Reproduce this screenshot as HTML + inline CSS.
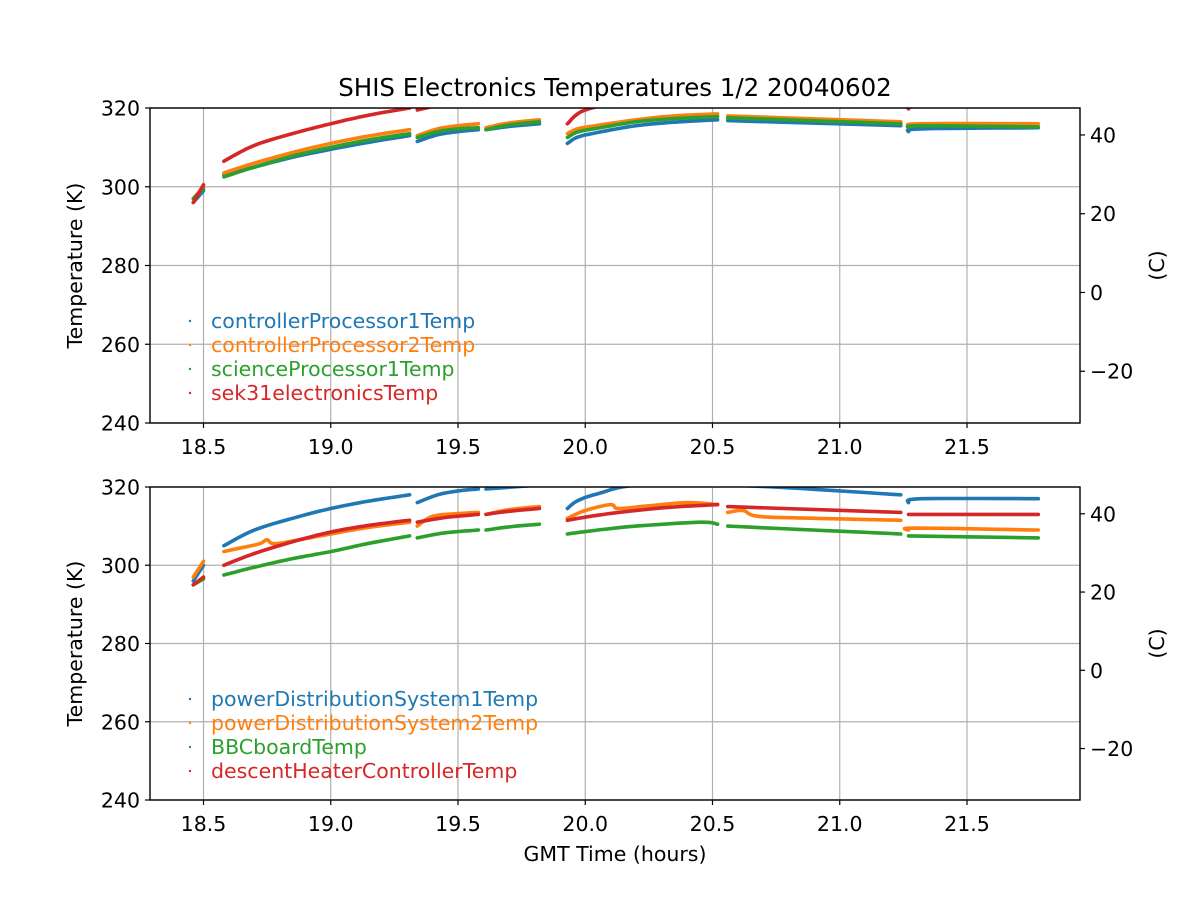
<!DOCTYPE html>
<html><head><meta charset="utf-8"><style>body{margin:0;background:#fff}svg{display:block}text{font-family:"DejaVu Sans","Liberation Sans",sans-serif;font-size:20.5px;fill:#000}</style></head>
<body>
<svg id="s" width="1200" height="900" xmlns="http://www.w3.org/2000/svg">
<text x="615" y="96" text-anchor="middle" style="font-size:24.5px">SHIS Electronics Temperatures 1/2 20040602</text>
<g id="g"></g>
<text x="615" y="861" text-anchor="middle">GMT Time (hours)</text>
</svg>
<script>
(function(){
const NS="http://www.w3.org/2000/svg",g=document.getElementById('g');
function el(t,a,txt){const e=document.createElementNS(NS,t);for(const k in a)e.setAttribute(k,a[k]);if(txt!==undefined)e.textContent=txt;g.appendChild(e);return e;}
const X=t=>203.5+(t-18.5)*254.5;
const C=['#1f77b4','#ff7f0e','#2ca02c','#d62728'];
function smooth(seg){ // catmull-rom interpolate
 if(seg.length<3)return seg;const out=[];
 for(let i=0;i<seg.length-1;i++){const p0=seg[Math.max(0,i-1)],p1=seg[i],p2=seg[i+1],p3=seg[Math.min(seg.length-1,i+2)];
  for(let s=0;s<8;s++){const t=s/8,t2=t*t,t3=t2*t;const f=(a,b,c,d)=>0.5*(2*b+(-a+c)*t+(2*a-5*b+4*c-d)*t2+(-a+3*b-3*c+d)*t3);out.push([f(p0[0],p1[0],p2[0],p3[0]),f(p0[1],p1[1],p2[1],p3[1])]);}}
 out.push(seg[seg.length-1]);return out;}
function panel(y0,y1,series,labels,legY,clipId){
 const L=150,R=1080,Y=k=>y0+(320-k)*(y1-y0)/80;
 [18.5,19,19.5,20,20.5,21,21.5].forEach(t=>{el('line',{x1:X(t),x2:X(t),y1:y0,y2:y1,stroke:'#b0b0b0','stroke-width':1.2});el('line',{x1:X(t),x2:X(t),y1:y1,y2:y1+5,stroke:'#000','stroke-width':1.2});el('text',{x:X(t),y:y1+31,'text-anchor':'middle'},t.toFixed(1));});
 [240,260,280,300,320].forEach(k=>{el('line',{x1:L,x2:R,y1:Y(k),y2:Y(k),stroke:'#b0b0b0','stroke-width':1.2});el('line',{x1:L-5,x2:L,y1:Y(k),y2:Y(k),stroke:'#000','stroke-width':1.2});el('text',{x:L-10,y:Y(k)+7.5,'text-anchor':'end'},k);});
 [-20,0,20,40].forEach(c=>{const y=Y(c+273.15);el('line',{x1:R,x2:R+5,y1:y,y2:y,stroke:'#000','stroke-width':1.2});el('text',{x:R+10,y:y+7.5},c<0?'\u2212'+(-c):c);});
 const cp=el('clipPath',{id:clipId});const r=document.createElementNS(NS,'rect');r.setAttribute('x',L);r.setAttribute('y',y0);r.setAttribute('width',R-L);r.setAttribute('height',y1-y0);cp.appendChild(r);
 series.forEach((segs,i)=>{segs.forEach(seg=>{el('polyline',{points:smooth(seg).map(p=>X(p[0]).toFixed(1)+','+Y(p[1]).toFixed(1)).join(' '),fill:'none',stroke:C[i],'stroke-width':3.6,'stroke-linecap':'round','stroke-linejoin':'round','clip-path':'url(#'+clipId+')'});});});
 labels.forEach((l,i)=>{const y=legY+i*24;el('circle',{cx:190,cy:y,r:1.2,fill:C[i]});el('text',{x:211,y:y+7,style:'fill:'+C[i]},l);});
 el('rect',{x:L,y:y0,width:R-L,height:y1-y0,fill:'none',stroke:'#000','stroke-width':1.4});
 const mid=(y0+y1)/2;
 el('text',{x:0,y:0,transform:`translate(82,${mid}) rotate(-90)`,'text-anchor':'middle'},'Temperature (K)');
 el('text',{x:0,y:0,transform:`translate(1164,${mid}) rotate(-90)`,'text-anchor':'middle'},'(C)');
}
const topData=[
 [[[18.46,296],[18.5,299]],[[18.58,303],[18.7,305],[18.85,307.5],[19.0,309.5],[19.15,311.3],[19.31,313]],[[19.34,311.5],[19.42,313.2],[19.5,314],[19.58,314.5]],[[19.61,314.5],[19.7,315.3],[19.82,316]],[[19.93,311],[19.97,312.6],[20.05,313.8],[20.2,315.5],[20.35,316.4],[20.52,317]],[[20.56,316.8],[21.24,315.5]],[[21.27,314],[21.32,314.7],[21.78,315]]],
 [[[18.46,297],[18.5,300]],[[18.58,303.5],[18.7,306],[18.85,308.7],[19.0,311],[19.15,312.9],[19.31,314.5]],[[19.34,313],[19.42,314.7],[19.5,315.5],[19.58,316]],[[19.61,315],[19.7,316.2],[19.82,317]],[[19.93,313.5],[19.97,314.7],[20.05,315.6],[20.2,317],[20.35,318],[20.52,318.5]],[[20.56,318],[21.24,316.5]],[[21.27,315.5],[21.32,316],[21.78,316]]],
 [[[18.46,297],[18.5,299.5]],[[18.58,302.5],[18.7,305],[18.85,307.8],[19.0,310],[19.15,311.9],[19.31,313.5]],[[19.34,312.5],[19.42,314],[19.5,314.7],[19.58,315]],[[19.61,314.5],[19.7,315.7],[19.82,316.5]],[[19.93,312.5],[19.97,313.9],[20.05,314.9],[20.2,316.5],[20.35,317.3],[20.52,317.8]],[[20.56,317.5],[21.24,316]],[[21.27,315],[21.32,315.5],[21.78,315.2]]],
 [[[18.46,296],[18.5,300.5]],[[18.58,306.5],[18.7,310.5],[18.85,313.5],[19.0,316],[19.15,318.2],[19.31,320]],[[19.34,319.5],[19.45,321],[19.58,322]],[[19.61,322],[19.82,323]],[[19.93,316],[20.0,319.5],[20.2,322],[20.52,323]],[[20.56,323],[21.24,322]],[[21.27,319.8],[21.32,320.5],[21.78,321]]]
];
const botData=[
 [[[18.46,296],[18.5,300]],[[18.58,305],[18.7,309],[18.85,312],[19.0,314.5],[19.15,316.4],[19.31,318]],[[19.34,316],[19.42,318],[19.5,319],[19.58,319.5]],[[19.61,319.5],[19.82,320.5]],[[19.93,314.5],[19.97,316.5],[20.05,318.3],[20.2,320.5],[20.52,321]],[[20.56,320.5],[20.8,319.8],[21.24,318]],[[21.27,316],[21.32,317],[21.78,317]]],
 [[[18.46,297],[18.5,301]],[[18.58,303.5],[18.65,304.5],[18.72,305.5],[18.75,306.5],[18.78,305.5],[18.9,306.8],[19.0,308],[19.15,309.7],[19.31,311]],[[19.34,310],[19.4,312.5],[19.5,313.2],[19.58,313.5]],[[19.61,313],[19.7,314.2],[19.82,315]],[[19.93,312],[20.0,314],[20.1,315.5],[20.13,314.5],[20.25,315.2],[20.4,316],[20.52,315.5]],[[20.56,313.5],[20.62,314],[20.68,312.5],[20.9,312],[21.24,311.5]],[[21.27,309],[21.3,309.5],[21.78,309]]],
 [[[18.46,295],[18.5,296.5]],[[18.58,297.5],[18.7,299.5],[18.85,301.7],[19.0,303.5],[19.15,305.6],[19.31,307.5]],[[19.34,307],[19.45,308.3],[19.58,309]],[[19.61,309],[19.7,309.8],[19.82,310.5]],[[19.93,308],[20.05,309],[20.2,310],[20.45,311],[20.52,310.5]],[[20.56,310],[21.0,308.7],[21.24,308]],[[21.27,307.5],[21.78,307]]],
 [[[18.46,295],[18.5,297]],[[18.58,300],[18.7,303],[18.85,306],[19.0,308.5],[19.15,310.2],[19.31,311.5]],[[19.34,311],[19.45,312.2],[19.58,313]],[[19.61,313],[19.7,313.8],[19.82,314.5]],[[19.93,311.5],[20.05,312.8],[20.2,314],[20.35,314.9],[20.52,315.5]],[[20.56,315],[21.24,313.5]],[[21.27,313],[21.78,313]]]
];
panel(108,423,topData,['controllerProcessor1Temp','controllerProcessor2Temp','scienceProcessor1Temp','sek31electronicsTemp'],321,'c1');
panel(487,800,botData,['powerDistributionSystem1Temp','powerDistributionSystem2Temp','BBCboardTemp','descentHeaterControllerTemp'],699,'c2');
})();
</script>
</body></html>
